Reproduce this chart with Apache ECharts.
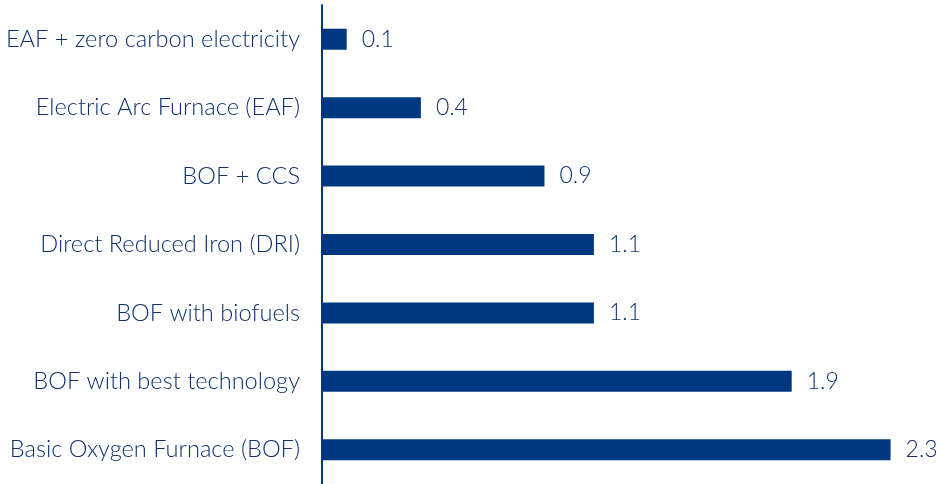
<!DOCTYPE html>
<html>
<head>
<meta charset="utf-8">
<script src="https://cdn.jsdelivr.net/npm/echarts@6/dist/echarts.min.js"></script>
<style>
  html, body { margin: 0; padding: 0; background: #fff; }
  #chart { width: 940px; height: 484px; }
</style>
</head>
<body>
<div id="chart"></div>
<script>
// categories listed bottom to top (category axis on y starts at the bottom)
var categories = [
    'Basic Oxygen Furnace (BOF)',
    'BOF with best technology',
    'BOF with biofuels',
    'Direct Reduced Iron (DRI)',
    'BOF + CCS',
    'Electric Arc Furnace (EAF)',
    'EAF + zero carbon electricity'
];
var values = [2.3, 1.9, 1.1, 1.1, 0.9, 0.4, 0.1];

var blue = '#003781';
var textColor = '#0f3170';

var myChart = echarts.init(document.getElementById('chart'));
var option = {
    animation: false,
    grid: {
        left: 322,
        right: 0,
        top: 5,
        bottom: -2,
        containLabel: false
    },
    xAxis: {
        type: 'value',
        min: 0,
        max: 2.5,
        show: false
    },
    yAxis: {
        type: 'category',
        data: categories,
        axisLine: {
            show: true,
            lineStyle: { color: blue, width: 2 }
        },
        axisTick: { show: false },
        axisLabel: {
            margin: 22,
            color: textColor,
            fontSize: 23.6,
            fontWeight: 300,
            fontFamily: 'Lato'
        }
    },
    series: [
        {
            type: 'bar',
            data: values,
            barWidth: 21,
            itemStyle: { color: blue },
            label: {
                show: true,
                position: 'right',
                distance: 15,
                color: textColor,
                fontSize: 23,
                fontWeight: 300,
                fontFamily: 'Lato',
                formatter: function (p) { return p.value.toFixed(1); }
            }
        }
    ]
};
myChart.setOption(option);
</script>
</body>
</html>
